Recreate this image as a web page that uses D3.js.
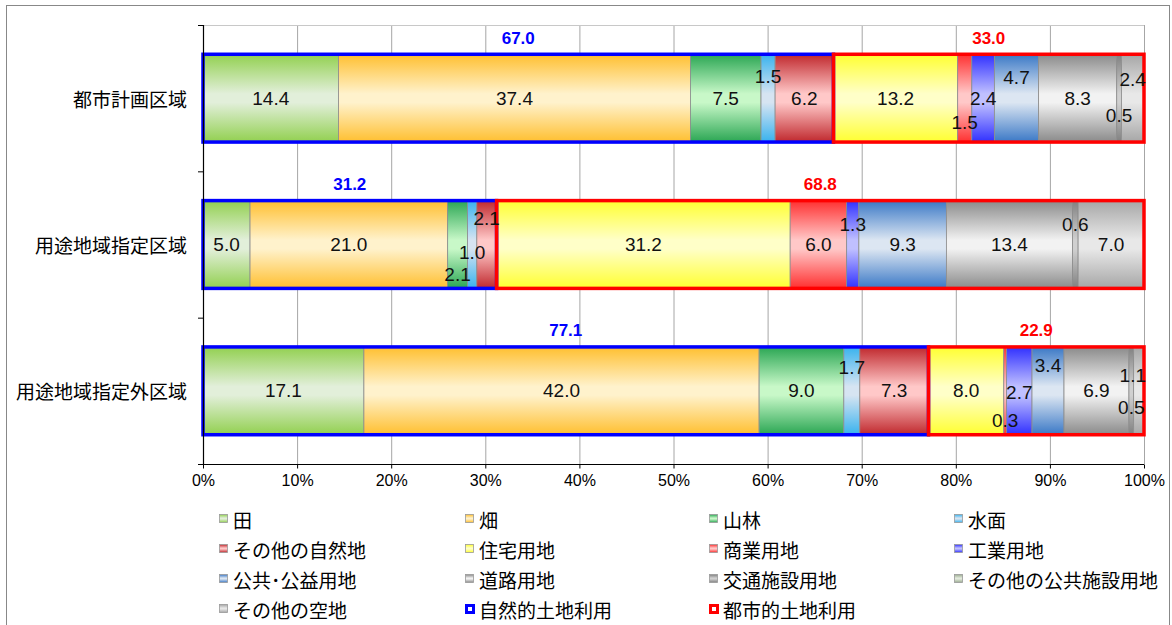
<!DOCTYPE html>
<html>
<head>
<meta charset="utf-8">
<script src="https://cdn.jsdelivr.net/npm/d3@7"></script>
<style>
  body { margin: 0; background: #fff; }
  svg { display: block; }
</style>
</head>
<body>
<script>
// categories and series (percent of area)
const categories = ["都市計画区域", "用途地域指定区域", "用途地域指定外区域"];
const landUses = ["田", "畑", "山林", "水面", "その他の自然地", "住宅用地", "商業用地", "工業用地",
  "公共･公益用地", "道路用地", "交通施設用地", "その他の公共施設用地", "その他の空地"];

const paddy = [14.4, 5.0, 17.1];
const field = [37.4, 21.0, 42.0];
const forest = [7.5, 2.1, 9.0];
const water = [1.5, 1.0, 1.7];
const otherNatural = [6.2, 2.1, 7.3];
const residential = [13.2, 31.2, 8.0];
const commercial = [1.5, 6.0, 0.3];
const industrial = [2.4, 1.3, 2.7];
const publicUse = [4.7, 9.3, 3.4];
const road = [8.3, 13.4, 6.9];
const transport = [0.5, 0.6, 0.5];
const otherPublic = [0, 0, 0];
const vacant = [2.4, 7.0, 1.1];

const naturalTotal = [67.0, 31.2, 77.1];
const urbanTotal = [33.0, 68.8, 22.9];
const tickLabels = ["0%", "10%", "20%", "30%", "40%", "50%", "60%", "70%", "80%", "90%", "100%"];

const seriesValues = [paddy, field, forest, water, otherNatural, residential, commercial,
  industrial, publicUse, road, transport, otherPublic, vacant];

// gradient colours: [edge, centre]
const colors = [
  ["#92d050", "#e2efda"], ["#ffbf2f", "#fff2cc"], ["#2aa653", "#c8f8c8"], ["#38b2ee", "#d6e4f2"],
  ["#c0282d", "#ffc8c8"], ["#ffff30", "#ffffc8"], ["#ff3030", "#ffc8c8"], ["#3030ff", "#c0c0ff"],
  ["#3a78c6", "#dce6f2"], ["#8a8a8a", "#f2f2f2"], ["#808080", "#d0d0d0"], ["#9aaa90", "#e2eadc"],
  ["#a6a6a6", "#e8e8e8"]
];

// manual label nudges (series index -> per row dy), as in the original chart
const labelDy = {3: [-22, 8, -23], 2: [0, 30, 0], 4: [0, -26, 0], 6: [24, 0, 30], 7: [0, -20, 2],
  8: [-21, 0, -25], 10: [17, -20, 17], 12: [-19, 0, -15]};
const labelDx = {12: [0, 0, -6]};

const W = 1172, H = 625;
const svg = d3.select("body").append("svg").attr("width", W).attr("height", H);

// outer frame
svg.append("rect").attr("x", 6.5).attr("y", 5.5).attr("width", 1163).attr("height", 660)
    .attr("fill", "none").attr("stroke", "#888").attr("stroke-width", 1);

const defs = svg.append("defs");
colors.forEach((c, i) => {
  const g = defs.append("linearGradient").attr("id", "g" + i)
      .attr("x1", 0).attr("y1", 0).attr("x2", 0).attr("y2", 1);
  g.append("stop").attr("offset", "0").attr("stop-color", c[0]);
  g.append("stop").attr("offset", "0.45").attr("stop-color", c[1]);
  g.append("stop").attr("offset", "0.55").attr("stop-color", c[1]);
  g.append("stop").attr("offset", "1").attr("stop-color", c[0]);
});

const x = d3.scaleLinear().domain([0, 100]).range([203, 1144]);
const y = d3.scaleBand().domain(categories).range([25, 464]).paddingInner(0.4).paddingOuter(0.2);
const step = y.step();

// gridlines
svg.append("g").selectAll("line").data(d3.range(10, 101, 10)).join("line")
    .attr("x1", d => x(d) + 0.5).attr("x2", d => x(d) + 0.5)
    .attr("y1", 25).attr("y2", 464).attr("stroke", "#a6a6a6");
svg.append("line").attr("x1", 203).attr("x2", 1144).attr("y1", 25.5).attr("y2", 25.5)
    .attr("stroke", "#c8c8c8");

// stacked segments
const stacked = categories.map((cat, r) => {
  let acc = 0;
  return seriesValues.map((vals, s) => {
    const seg = {cat, r, s, v: vals[r], x0: acc, x1: acc + vals[r]};
    acc += vals[r];
    return seg;
  });
}).flat();

svg.append("g").selectAll("rect").data(stacked.filter(d => d.v > 0)).join("rect")
    .attr("x", d => x(d.x0)).attr("width", d => x(d.x1) - x(d.x0))
    .attr("y", d => y(d.cat)).attr("height", y.bandwidth())
    .attr("fill", d => "url(#g" + d.s + ")")
    .attr("stroke", "#8c8c8c").attr("stroke-width", 0.8);

// group frames
svg.append("g").selectAll("rect").data(categories).join("rect")
    .attr("x", (d, i) => x(0)).attr("width", (d, i) => x(naturalTotal[i]) - x(0))
    .attr("y", d => y(d)).attr("height", y.bandwidth())
    .attr("fill", "none").attr("stroke", "#0000ff").attr("stroke-width", 3.5);
svg.append("g").selectAll("rect").data(categories).join("rect")
    .attr("x", (d, i) => x(naturalTotal[i])).attr("width", (d, i) => x(100) - x(naturalTotal[i]))
    .attr("y", d => y(d)).attr("height", y.bandwidth())
    .attr("fill", "none").attr("stroke", "#ff0000").attr("stroke-width", 3.5);

// segment labels
svg.append("g").selectAll("text").data(stacked.filter(d => d.v > 0)).join("text")
    .attr("x", d => x((d.x0 + d.x1) / 2) + (labelDx[d.s] ? labelDx[d.s][d.r] : 0))
    .attr("y", d => y(d.cat) + y.bandwidth() / 2 + (labelDy[d.s] ? labelDy[d.s][d.r] : 0))
    .attr("text-anchor", "middle").attr("dominant-baseline", "central")
    .attr("font-family", "'Liberation Sans Narrow', 'Liberation Sans', sans-serif")
    .attr("font-size", 19).attr("fill", "#111")
    .text(d => d.v.toFixed(1));

// group totals
const totals = svg.append("g")
    .attr("font-family", "'Liberation Sans', Arial, sans-serif")
    .attr("font-weight", "bold").attr("font-size", 17).attr("text-anchor", "middle");
totals.selectAll(".nat").data(categories).join("text").attr("class", "nat")
    .attr("x", (d, i) => x(naturalTotal[i] / 2)).attr("y", d => y(d) - 16)
    .attr("dominant-baseline", "central").attr("fill", "#0000ff")
    .text((d, i) => naturalTotal[i].toFixed(1));
totals.selectAll(".urb").data(categories).join("text").attr("class", "urb")
    .attr("x", (d, i) => x(naturalTotal[i] + urbanTotal[i] / 2)).attr("y", d => y(d) - 16)
    .attr("dominant-baseline", "central").attr("fill", "#ff0000")
    .text((d, i) => urbanTotal[i].toFixed(1));

// y axis
svg.append("line").attr("x1", 203.5).attr("x2", 203.5).attr("y1", 25).attr("y2", 465)
    .attr("stroke", "#000").attr("stroke-width", 1.2);
svg.append("g").selectAll("line").data(d3.range(0, categories.length + 1)).join("line")
    .attr("x1", 198).attr("x2", 203)
    .attr("y1", i => 25 + i * step + 0.5).attr("y2", i => 25 + i * step + 0.5)
    .attr("stroke", "#000");
svg.append("g").selectAll("text").data(categories).join("text")
    .attr("x", 187).attr("y", d => y(d) + y.bandwidth() / 2)
    .attr("text-anchor", "end").attr("dominant-baseline", "central")
    .attr("font-family", "'Noto Sans CJK JP', sans-serif").attr("font-size", 19)
    .attr("fill", "#000").text(d => d);

// x axis
const xAxis = svg.append("g").attr("transform", "translate(0,464.5)")
    .call(d3.axisBottom(x).tickValues(d3.range(0, 101, 10)).tickSize(4).tickSizeOuter(0)
      .tickFormat((d, i) => tickLabels[i]));
xAxis.select(".domain").attr("d", "M198,0H1144").attr("stroke-width", 1.2);
xAxis.selectAll(".tick text")
    .attr("font-family", "'Liberation Sans Narrow', 'Liberation Sans', sans-serif")
    .attr("font-size", 16).attr("fill", "#000").attr("y", 10);

// legend
const legendItems = landUses.map((name, i) => ({name, kind: "grad", i}))
    .concat([{name: "自然的土地利用", kind: "frame", color: "#0000ff"},
             {name: "都市的土地利用", kind: "frame", color: "#ff0000"}]);
const colX = [219, 465, 709, 954];
const rowY = [519, 549, 579, 609];
const leg = svg.append("g").selectAll("g").data(legendItems).join("g")
    .attr("transform", (d, i) => "translate(" + colX[i % 4] + "," + rowY[Math.floor(i / 4)] + ")");
leg.filter(d => d.kind === "grad").append("rect")
    .attr("x", 0.5).attr("y", -4.5).attr("width", 8).attr("height", 8)
    .attr("fill", d => "url(#g" + d.i + ")").attr("stroke", "#999").attr("stroke-width", 0.8);
leg.filter(d => d.kind === "frame").append("rect")
    .attr("x", 1.5).attr("y", -3.5).attr("width", 7).attr("height", 7)
    .attr("fill", "#fff").attr("stroke", d => d.color).attr("stroke-width", 3);
leg.append("text").attr("x", 14).attr("y", 0).attr("dominant-baseline", "central")
    .attr("font-family", "'Noto Sans CJK JP', sans-serif").attr("font-size", 19)
    .attr("fill", "#000").text(d => d.name);
</script>
</body>
</html>
